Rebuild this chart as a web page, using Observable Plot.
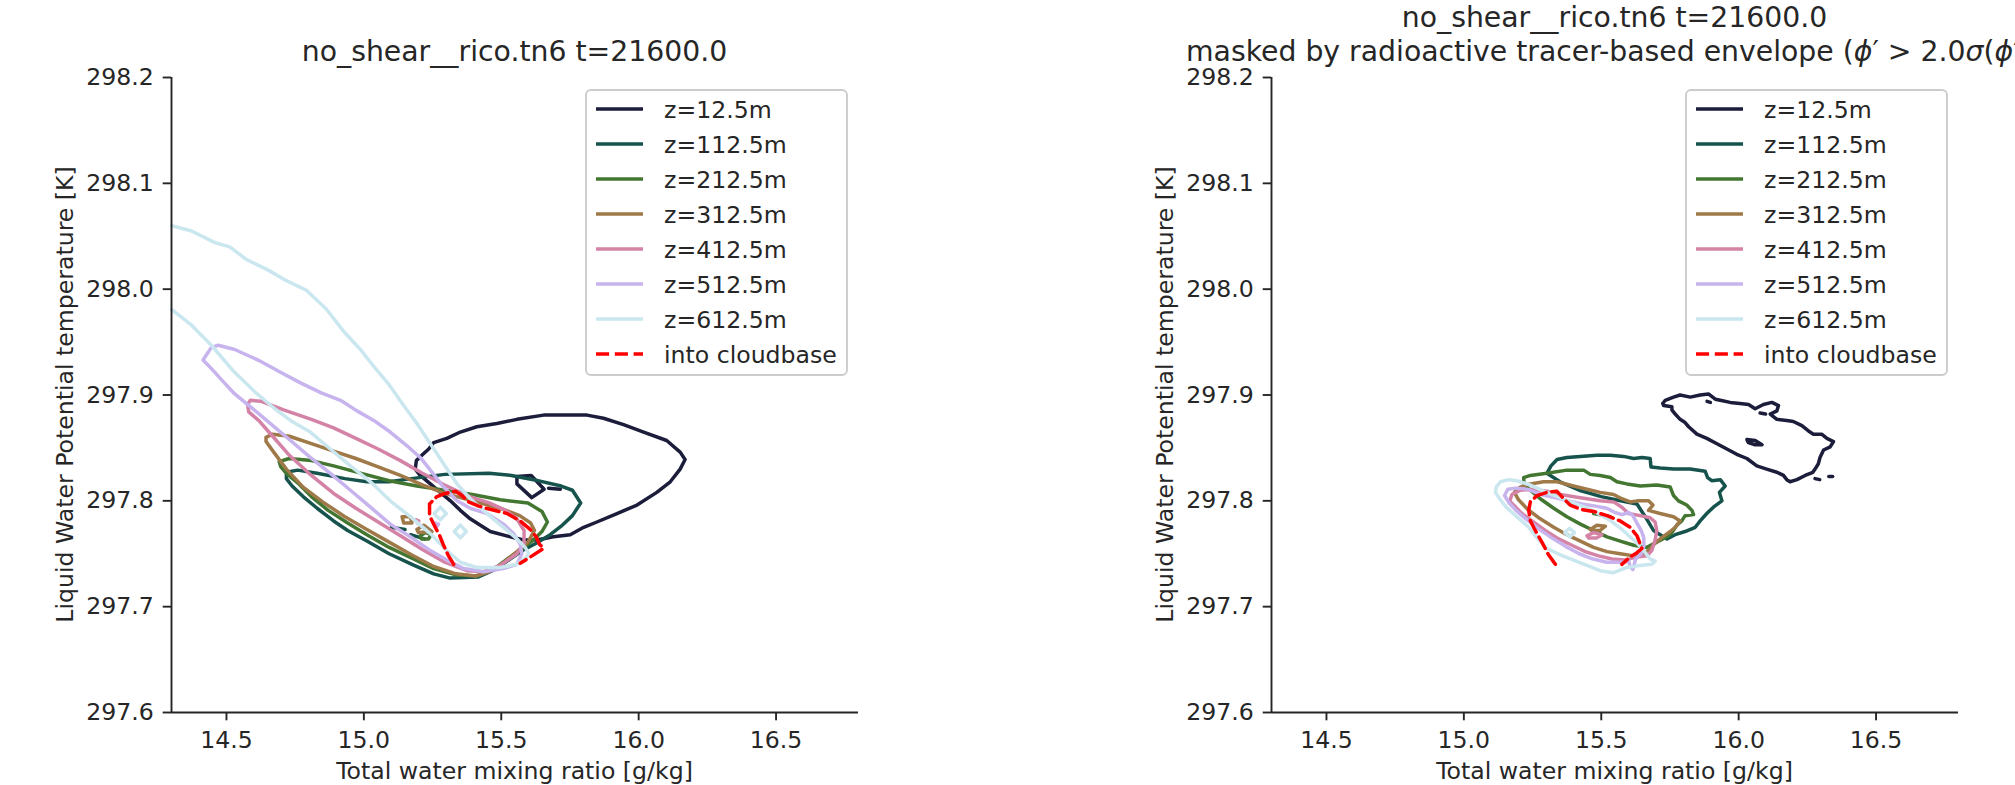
<!DOCTYPE html>
<html>
<head>
<meta charset="utf-8">
<script src="https://cdn.jsdelivr.net/npm/d3@7"></script>
<script src="https://cdn.jsdelivr.net/npm/@observablehq/plot@0.6"></script>
<style>
  html, body { margin: 0; padding: 0; background: #ffffff; overflow: hidden; }
  #fig { position: relative; width: 2015px; height: 785px; overflow: hidden; font-family: "DejaVu Sans", sans-serif; }
  #fig svg { position: absolute; top: 0; }
</style>
</head>
<body>
<div id="fig"></div>
<script>
// ---------- categories / styles ----------
const levels = ["z=12.5m", "z=112.5m", "z=212.5m", "z=312.5m", "z=412.5m", "z=512.5m", "z=612.5m"];
const levelColors = ["#1b1d3b", "#16534c", "#437731", "#a07949", "#d483a7", "#c7b3ed", "#cae7f0"];
const cloudbaseLabel = "into cloudbase";
const xTicks = [14.5, 15.0, 15.5, 16.0, 16.5];
const yTicks = [297.6, 297.7, 297.8, 297.9, 298.0, 298.1, 298.2];
const xDomain = [14.3, 16.8];
const yDomain = [297.6, 298.2];
const titleLeft = "no_shear__rico.tn6 t=21600.0";
const titleRight1 = "no_shear__rico.tn6 t=21600.0";
const xLabel = "Total water mixing ratio [g/kg]";
const yLabel = "Liquid Water Potential temperature [K]";

// ---------- left panel: all points ----------
const left_z12 = [
  [[15.187,297.830],[15.191,297.838],[15.211,297.843],[15.236,297.849],[15.254,297.855],[15.302,297.859],[15.351,297.865],[15.411,297.870],[15.484,297.873],[15.557,297.877],[15.654,297.881],[15.812,297.881],[15.872,297.878],[15.945,297.872],[16.018,297.865],[16.102,297.857],[16.151,297.846],[16.169,297.839],[16.151,297.830],[16.115,297.818],[16.066,297.808],[15.994,297.796],[15.921,297.788],[15.848,297.780],[15.800,297.775],[15.751,297.768],[15.690,297.766],[15.630,297.763],[15.581,297.763],[15.533,297.766],[15.460,297.771],[15.424,297.777],[15.387,297.783],[15.351,297.791],[15.315,297.800],[15.278,297.808],[15.242,297.816],[15.205,297.824],[15.187,297.830]],
  [[15.557,297.823],[15.609,297.824],[15.656,297.811],[15.611,297.803],[15.557,297.816],[15.557,297.823]],
  [[15.672,297.812],[15.715,297.811]]
];
const left_z112 = [
  [[14.718,297.827],[14.759,297.829],[14.830,297.826],[14.931,297.821],[15.011,297.818],[15.092,297.818],[15.173,297.821],[15.294,297.825],[15.456,297.826],[15.537,297.824],[15.617,297.820],[15.718,297.814],[15.759,297.810],[15.789,297.798],[15.759,297.786],[15.718,297.776],[15.678,297.768],[15.627,297.760],[15.577,297.753],[15.527,297.744],[15.476,297.735],[15.415,297.728],[15.314,297.727],[15.254,297.731],[15.183,297.739],[15.092,297.750],[15.011,297.762],[14.941,297.772],[14.890,297.781],[14.830,297.793],[14.779,297.804],[14.739,297.814],[14.718,297.821],[14.718,297.827]],
  [[15.100,297.775],[15.150,297.773]],
  [[15.170,297.768],[15.220,297.764]]
];
const left_z212 = [
  [[14.692,297.837],[14.728,297.840],[14.809,297.838],[14.890,297.833],[14.991,297.826],[15.092,297.819],[15.193,297.814],[15.294,297.810],[15.395,297.806],[15.496,297.801],[15.597,297.798],[15.648,297.790],[15.668,297.780],[15.648,297.771],[15.617,297.763],[15.577,297.755],[15.527,297.746],[15.476,297.736],[15.415,297.729],[15.335,297.730],[15.254,297.736],[15.173,297.746],[15.092,297.756],[15.011,297.768],[14.941,297.779],[14.870,297.791],[14.809,297.804],[14.759,297.817],[14.718,297.826],[14.698,297.832],[14.692,297.837]],
  [[15.205,297.767],[15.225,297.770],[15.245,297.768],[15.235,297.764],[15.210,297.764],[15.205,297.767]]
];
const left_z312 = [
  [[14.644,297.860],[14.668,297.863],[14.729,297.861],[14.809,297.854],[14.890,297.847],[14.971,297.840],[15.052,297.832],[15.133,297.824],[15.213,297.815],[15.294,297.807],[15.395,297.800],[15.496,297.793],[15.567,297.786],[15.607,297.779],[15.621,297.772],[15.597,297.761],[15.557,297.752],[15.506,297.741],[15.456,297.733],[15.405,297.729],[15.335,297.731],[15.254,297.738],[15.173,297.749],[15.092,297.761],[15.011,297.773],[14.931,297.785],[14.850,297.799],[14.779,297.813],[14.718,297.830],[14.672,297.846],[14.644,297.856],[14.644,297.860]],
  [[15.139,297.785],[15.169,297.785],[15.175,297.779],[15.145,297.779],[15.139,297.785]],
  [[15.193,297.773],[15.218,297.777],[15.248,297.771],[15.199,297.770],[15.193,297.773]]
];
const left_z412 = [
  [[14.577,297.891],[14.587,297.895],[14.627,297.894],[14.708,297.886],[14.809,297.877],[14.890,297.869],[14.971,297.859],[15.052,297.849],[15.133,297.838],[15.213,297.826],[15.294,297.815],[15.375,297.805],[15.456,297.798],[15.516,297.791],[15.557,297.783],[15.583,297.772],[15.583,297.760],[15.557,297.750],[15.496,297.739],[15.436,297.733],[15.375,297.734],[15.294,297.742],[15.213,297.754],[15.133,297.767],[15.052,297.780],[14.971,297.793],[14.890,297.807],[14.809,297.824],[14.729,297.843],[14.668,297.861],[14.617,297.876],[14.581,297.884],[14.577,297.891]],
  [[15.190,297.782],[15.200,297.781],[15.195,297.779],[15.190,297.782]]
];
const left_z512 = [
  [[14.415,297.933],[14.445,297.945],[14.470,297.947],[14.530,297.943],[14.615,297.933],[14.700,297.921],[14.773,297.911],[14.845,297.902],[14.915,297.895],[14.975,297.885],[15.036,297.876],[15.096,297.865],[15.157,297.852],[15.205,297.841],[15.242,297.829],[15.290,297.813],[15.339,297.800],[15.387,297.793],[15.448,297.788],[15.508,297.778],[15.545,297.769],[15.569,297.759],[15.575,297.750],[15.557,297.740],[15.508,297.736],[15.436,297.733],[15.363,297.736],[15.302,297.744],[15.242,297.753],[15.169,297.766],[15.096,297.778],[15.024,297.794],[14.951,297.810],[14.878,297.826],[14.805,297.841],[14.733,297.857],[14.660,297.873],[14.591,297.888],[14.530,297.901],[14.494,297.911],[14.452,297.923],[14.415,297.933]],
  [[15.260,297.779],[15.272,297.778],[15.266,297.776],[15.260,297.779]]
];
const left_z612 = [
  [[14.300,298.060],[14.373,298.055],[14.458,298.044],[14.512,298.040],[14.573,298.028],[14.652,298.018],[14.718,298.008],[14.791,297.999],[14.864,297.981],[14.930,297.959],[14.991,297.942],[15.039,297.926],[15.088,297.911],[15.145,297.890],[15.193,297.873],[15.242,297.854],[15.290,297.835],[15.339,297.816],[15.387,297.802],[15.448,297.788],[15.508,297.775],[15.557,297.764],[15.587,297.756],[15.599,297.751],[15.593,297.747],[15.557,297.740],[15.496,297.737],[15.411,297.737],[15.351,297.742],[15.302,297.753],[15.242,297.769],[15.169,297.785],[15.096,297.800],[15.024,297.818],[14.951,297.833],[14.878,297.849],[14.805,297.865],[14.733,297.876],[14.676,297.887],[14.603,297.903],[14.524,297.923],[14.445,297.947],[14.373,297.966],[14.300,297.981]],
  [[15.278,297.794],[15.300,297.788],[15.278,297.782],[15.256,297.788],[15.278,297.794]],
  [[15.351,297.777],[15.373,297.771],[15.351,297.765],[15.329,297.771],[15.351,297.777]]
];
const left_cloudbase = [[15.327,297.740],[15.308,297.748],[15.290,297.758],[15.276,297.767],[15.256,297.777],[15.239,297.786],[15.239,297.797],[15.266,297.804],[15.296,297.807],[15.333,297.809],[15.357,297.805],[15.381,297.799],[15.418,297.795],[15.460,297.792],[15.521,297.788],[15.569,297.781],[15.605,297.773],[15.627,297.766],[15.639,297.759],[15.654,297.755],[15.612,297.748],[15.569,297.741]];

// ---------- right panel: masked by tracer envelope ----------
const right_z12 = [
  [[15.724,297.892],[15.733,297.895],[15.763,297.898],[15.787,297.900],[15.824,297.898],[15.860,297.900],[15.890,297.901],[15.915,297.896],[15.933,297.895],[15.969,297.893],[16.005,297.892],[16.036,297.891],[16.060,297.887],[16.090,297.891],[16.121,297.893],[16.145,297.890],[16.139,297.885],[16.115,297.882],[16.139,297.877],[16.175,297.876],[16.199,297.875],[16.230,297.871],[16.254,297.866],[16.272,297.863],[16.302,297.863],[16.321,297.859],[16.345,297.856],[16.333,297.851],[16.309,297.848],[16.296,297.841],[16.290,297.835],[16.278,297.830],[16.270,297.827],[16.242,297.824],[16.212,297.820],[16.187,297.818],[16.175,297.820],[16.163,297.824],[16.139,297.827],[16.102,297.830],[16.066,297.833],[16.030,297.840],[15.993,297.844],[15.957,297.849],[15.921,297.854],[15.884,297.859],[15.848,297.863],[15.818,297.870],[15.805,297.874],[15.787,297.877],[15.769,297.882],[15.757,297.886],[15.757,297.889],[15.727,297.890],[15.724,297.892]],
  [[15.885,297.894],[15.897,297.893]],
  [[16.078,297.883],[16.098,297.882]],
  [[16.030,297.858],[16.060,297.857],[16.085,297.853],[16.060,297.853],[16.035,297.855],[16.030,297.858]],
  [[16.278,297.821],[16.295,297.820]],
  [[16.328,297.823],[16.342,297.823]]
];
const right_z112 = [
  [[15.302,297.826],[15.317,297.833],[15.339,297.839],[15.375,297.841],[15.424,297.842],[15.484,297.843],[15.533,297.843],[15.581,297.842],[15.618,297.840],[15.648,297.841],[15.678,297.840],[15.681,297.832],[15.715,297.831],[15.763,297.830],[15.824,297.830],[15.878,297.828],[15.887,297.822],[15.902,297.819],[15.933,297.820],[15.951,297.814],[15.930,297.808],[15.939,297.800],[15.908,297.794],[15.884,297.788],[15.860,297.781],[15.842,297.775],[15.805,297.771],[15.769,297.768],[15.739,297.764],[15.690,297.772],[15.660,297.785],[15.630,297.797],[15.570,297.800],[15.500,297.804],[15.420,297.810],[15.350,297.818],[15.302,297.826]]
];
const right_z212 = [
  [[15.218,297.822],[15.242,297.824],[15.302,297.826],[15.375,297.829],[15.436,297.829],[15.460,297.825],[15.496,297.824],[15.533,297.822],[15.557,297.818],[15.593,297.816],[15.642,297.814],[15.702,297.815],[15.751,297.813],[15.763,297.805],[15.781,297.800],[15.811,297.796],[15.830,297.791],[15.836,297.787],[15.805,297.786],[15.793,297.781],[15.775,297.777],[15.757,297.770],[15.739,297.766],[15.702,297.761],[15.666,297.756],[15.618,297.758],[15.569,297.762],[15.521,297.766],[15.472,297.772],[15.424,297.778],[15.375,297.785],[15.327,297.793],[15.278,297.802],[15.242,297.810],[15.218,297.816],[15.218,297.822]],
  [[15.472,297.788],[15.533,297.785]]
];
const right_z312 = [
  [[15.184,297.808],[15.205,297.813],[15.242,297.816],[15.290,297.818],[15.339,297.818],[15.399,297.814],[15.448,297.811],[15.496,297.808],[15.545,297.806],[15.575,297.802],[15.605,297.799],[15.636,297.800],[15.672,297.800],[15.688,297.796],[15.672,297.791],[15.714,297.788],[15.763,297.785],[15.787,297.781],[15.769,297.775],[15.751,297.771],[15.724,297.766],[15.700,297.761],[15.678,297.755],[15.654,297.749],[15.618,297.748],[15.569,297.750],[15.521,297.752],[15.472,297.756],[15.424,297.762],[15.375,297.768],[15.327,297.775],[15.278,297.783],[15.232,297.792],[15.199,297.801],[15.184,297.808]],
  [[15.460,297.773],[15.484,297.777],[15.515,297.776],[15.496,297.772],[15.466,297.772],[15.460,297.773]]
];
const right_z412 = [
  [[15.167,297.800],[15.175,297.806],[15.205,297.810],[15.254,297.811],[15.302,297.809],[15.351,297.806],[15.424,297.803],[15.496,297.800],[15.545,297.799],[15.575,297.794],[15.599,297.788],[15.642,297.786],[15.678,297.784],[15.696,297.780],[15.702,297.772],[15.696,297.763],[15.684,297.753],[15.666,297.748],[15.630,297.747],[15.587,297.744],[15.539,297.745],[15.490,297.748],[15.442,297.752],[15.393,297.758],[15.345,297.764],[15.296,297.772],[15.248,297.781],[15.211,297.788],[15.181,297.796],[15.167,297.800]],
  [[15.448,297.767],[15.472,297.770],[15.502,297.768],[15.484,297.765],[15.454,297.765],[15.448,297.767]]
];
const right_z512 = [
  [[15.148,297.805],[15.160,297.811],[15.190,297.812],[15.230,297.811],[15.280,297.806],[15.330,297.803],[15.380,297.800],[15.430,297.797],[15.480,297.795],[15.520,297.793],[15.550,297.789],[15.575,297.787],[15.600,297.789],[15.615,297.786],[15.630,297.779],[15.645,297.772],[15.655,297.765],[15.655,297.757],[15.645,297.750],[15.625,297.745],[15.615,297.735],[15.605,297.738],[15.600,297.743],[15.570,297.742],[15.520,297.742],[15.470,297.745],[15.420,297.750],[15.370,297.757],[15.320,297.765],[15.270,297.774],[15.225,297.783],[15.190,297.791],[15.165,297.798],[15.148,297.805]]
];
const right_z612 = [
  [[15.115,297.808],[15.118,297.813],[15.133,297.818],[15.163,297.820],[15.193,297.819],[15.240,297.815],[15.300,297.808],[15.380,297.800],[15.460,297.792],[15.530,297.782],[15.580,297.772],[15.630,297.760],[15.660,297.751],[15.678,297.745],[15.696,297.743],[15.684,297.740],[15.642,297.739],[15.593,297.737],[15.542,297.732],[15.496,297.734],[15.448,297.739],[15.399,297.744],[15.351,297.749],[15.302,297.755],[15.266,297.765],[15.236,297.775],[15.193,297.785],[15.154,297.794],[15.130,297.802],[15.115,297.808]],
  [[15.385,297.774],[15.403,297.770],[15.385,297.766],[15.367,297.770],[15.385,297.774]]
];
const right_cloudbase = [[15.333,297.740],[15.308,297.749],[15.284,297.761],[15.260,297.772],[15.242,297.781],[15.236,297.791],[15.242,297.799],[15.266,297.805],[15.302,297.808],[15.339,297.809],[15.363,297.802],[15.387,297.796],[15.424,297.792],[15.472,297.790],[15.521,297.786],[15.569,297.781],[15.605,297.775],[15.630,297.767],[15.642,297.759],[15.648,297.755],[15.630,297.751],[15.605,297.747],[15.575,297.740]];

// ---------- drawing ----------
const TEXT = "#262626";
const FONT = "DejaVu Sans";
const LW = 3.5;
const DASH = "13.1,5.7";

function buildRows(sets) {
  const rows = [];
  levels.forEach((lv, i) => {
    sets[i].forEach((seg, j) => {
      seg.forEach(([x, y]) => rows.push({x, y, level: lv, seg: lv + "#" + j}));
    });
  });
  return rows;
}

function makePanel(sets, cloud, width, marginRight) {
  const rows = buildRows(sets);
  const cloudRows = cloud.map(([x, y]) => ({x, y}));
  return Plot.plot({
    width, height: 785,
    marginLeft: 171, marginRight, marginTop: 77, marginBottom: 73,
    x: {domain: xDomain, label: null},
    y: {domain: yDomain, label: null},
    color: {domain: levels, range: levelColors},
    style: {fontFamily: FONT, fontSize: "23.6px", color: TEXT, background: "transparent", overflow: "visible"},
    marks: [
      Plot.line(rows, {x: "x", y: "y", z: "seg", stroke: "level", strokeWidth: LW, strokeLinejoin: "round", strokeLinecap: "round"}),
      Plot.line(cloudRows, {x: "x", y: "y", stroke: "#ff0000", strokeWidth: LW, strokeDasharray: DASH, strokeLinejoin: "round"}),
      Plot.ruleX([xDomain[0]], {y1: yDomain[0], y2: yDomain[1], stroke: TEXT, strokeWidth: 1.9}),
      Plot.ruleY([yDomain[0]], {x1: xDomain[0], x2: xDomain[1], stroke: TEXT, strokeWidth: 1.9}),
      Plot.axisX({ticks: xTicks, tickFormat: d => d.toFixed(1), tickSize: 8.3, tickPadding: 10.5, strokeWidth: 1.9, stroke: TEXT, fill: TEXT, fontSize: 23.6, label: null}),
      Plot.axisY({ticks: yTicks, tickFormat: d => d.toFixed(1), tickSize: 8.3, tickPadding: 9.5, strokeWidth: 1.9, stroke: TEXT, fill: TEXT, fontSize: 23.6, label: null})
    ]
  });
}

function decorate(svg, titles) {
  const s = d3.select(svg);
  const cx = 171 + 687 / 2;
  // titles
  titles.forEach(t => {
    const tx = s.append("text").attr("x", t.x).attr("y", t.y)
      .attr("text-anchor", t.anchor).attr("fill", TEXT)
      .style("font-family", FONT).style("font-size", "28.3px");
    t.parts.forEach(p => {
      const ts = tx.append("tspan").text(p.text);
      if (p.italic) ts.style("font-style", "italic");
    });
  });
  // axis labels
  s.append("text").attr("x", cx).attr("y", 779).attr("text-anchor", "middle")
    .attr("fill", TEXT).style("font-family", FONT).style("font-size", "23.6px").text(xLabel);
  s.append("text").attr("transform", "translate(73,394.5) rotate(-90)").attr("text-anchor", "middle")
    .attr("fill", TEXT).style("font-family", FONT).style("font-size", "23.6px").text(yLabel);
  // legend
  const g = s.append("g");
  g.append("rect").attr("x", 586).attr("y", 90).attr("width", 261).attr("height", 285)
    .attr("rx", 5).attr("ry", 5).attr("fill", "#ffffff").attr("fill-opacity", 0.8)
    .attr("stroke", "#cccccc").attr("stroke-width", 1.9);
  const entries = levels.map((l, i) => ({label: l, color: levelColors[i], dash: null}))
    .concat([{label: cloudbaseLabel, color: "#ff0000", dash: DASH}]);
  entries.forEach((e, i) => {
    const yc = 109 + 35 * i;
    const ln = g.append("line").attr("x1", 596).attr("x2", 643).attr("y1", yc).attr("y2", yc)
      .attr("stroke", e.color).attr("stroke-width", LW);
    if (e.dash) ln.attr("stroke-dasharray", e.dash);
    g.append("text").attr("x", 664).attr("y", yc + 8.5).attr("fill", TEXT)
      .attr("text-anchor", "start")
      .style("font-family", FONT).style("font-size", "23.6px").text(e.label);
  });
}

const fig = document.getElementById("fig");
const leftSets = [left_z12, left_z112, left_z212, left_z312, left_z412, left_z512, left_z612];
const rightSets = [right_z12, right_z112, right_z212, right_z312, right_z412, right_z512, right_z612];

const svgL = makePanel(leftSets, left_cloudbase, 1100, 242);
svgL.style.left = "0px";
fig.appendChild(svgL);
decorate(svgL, [{x: 514.5, y: 61, anchor: "middle", parts: [{text: titleLeft}]}]);

const svgR = makePanel(rightSets, right_cloudbase, 915, 57);
svgR.style.left = "1100px";
fig.appendChild(svgR);
decorate(svgR, [
  {x: 514.5, y: 27, anchor: "middle", parts: [{text: titleRight1}]},
  {x: 86, y: 61, anchor: "start", parts: [
    {text: "masked by radioactive tracer-based envelope ("},
    {text: "ϕ", italic: true}, {text: "′ > 2.0"}, {text: "σ", italic: true}, {text: "("},
    {text: "ϕ", italic: true}, {text: "′))"}
  ]}
]);
</script>
</body>
</html>
